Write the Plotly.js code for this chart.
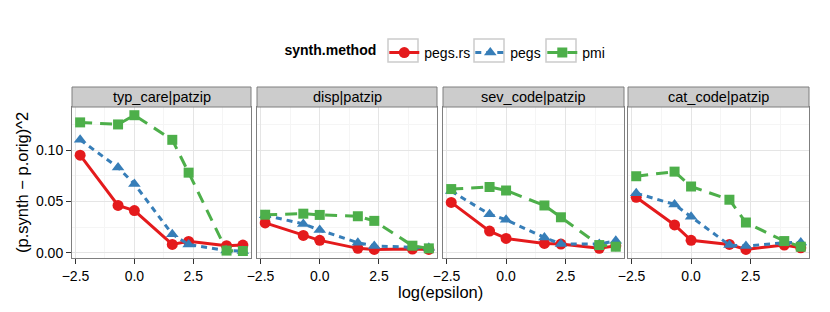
<!DOCTYPE html>
<html>
<head>
<meta charset="utf-8">
<script src="https://cdn.plot.ly/plotly-3.0.1.min.js"></script>
<style>html,body{margin:0;padding:0;background:#fff}#chart{width:830px;height:312px}</style>
</head>
<body>
<div id="chart"></div>
<script>
// log(epsilon) for epsilon = 0.1, 0.5, 1, 5, 10, 50, 100
const logEpsilon = [-2.303, -0.693, 0.0, 1.609, 2.303, 3.912, 4.605];
const panels = ["typ_care|patzip", "disp|patzip", "sev_code|patzip", "cat_code|patzip"];
const methods = ["pegs.rs", "pegs", "pmi"];

const typCare_pegsrs = [0.095, 0.046, 0.041, 0.008, 0.011, 0.0068, 0.0074];
const typCare_pegs   = [0.110, 0.083, 0.067, 0.018, 0.008, 0.002, 0.0016];
const typCare_pmi    = [0.127, 0.125, 0.134, 0.110, 0.078, 0.002, 0.0016];

const disp_pegsrs = [0.029, 0.0168, 0.012, 0.0042, 0.0032, 0.0035, 0.0032];
const disp_pegs   = [0.0365, 0.028, 0.022, 0.0097, 0.0065, 0.0058, 0.0048];
const disp_pmi    = [0.037, 0.038, 0.0368, 0.0355, 0.031, 0.0068, 0.0042];

const sevCode_pegsrs = [0.049, 0.021, 0.0139, 0.009, 0.0084, 0.0042, 0.0068];
const sevCode_pegs   = [0.060, 0.0374, 0.032, 0.0148, 0.0084, 0.0084, 0.0116];
const sevCode_pmi    = [0.062, 0.064, 0.0606, 0.046, 0.0345, 0.0074, 0.0058];

const catCode_pegsrs = [0.054, 0.027, 0.012, 0.008, 0.0032, 0.0074, 0.0048];
const catCode_pegs   = [0.058, 0.047, 0.035, 0.0074, 0.0065, 0.0097, 0.010];
const catCode_pmi    = [0.0745, 0.079, 0.0645, 0.0516, 0.0294, 0.0113, 0.0058];

const xTicks = [-2.5, 0, 2.5];
const yTicks = [0, 0.05, 0.10];

const panelData = [
  [typCare_pegsrs, typCare_pegs, typCare_pmi],
  [disp_pegsrs, disp_pegs, disp_pmi],
  [sevCode_pegsrs, sevCode_pegs, sevCode_pmi],
  [catCode_pegsrs, catCode_pegs, catCode_pmi]
];

const colors = ["#E41A1C", "#377EB8", "#4DAF4A"];
const symbols = ["circle", "triangle-up", "square"];
const msizes = [11, 11, 10];
const dashes = ["solid", "6px,5px", "12px,8px"];
const legendWidths = [41, 27, null];

const W = 830, H = 312;
const xPix = [[72, 251], [257, 437], [443, 624], [628, 809]];
const plotTop = 107, plotBottom = 258, stripTop = 87;
const yDom = [1 - plotBottom / H, 1 - plotTop / H];
const stripDom = [1 - plotTop / H, 1 - stripTop / H];

const traces = [];
panelData.forEach((series, p) => {
  series.forEach((vals, m) => {
    const t = {
      x: logEpsilon, y: vals,
      type: "scatter", mode: "lines+markers",
      name: methods[m], legendgroup: methods[m], showlegend: p === 0,
      xaxis: p === 0 ? "x" : "x" + (p + 1),
      yaxis: p === 0 ? "y" : "y" + (p + 1),
      line: {color: colors[m], width: 3, dash: dashes[m]},
      marker: {color: colors[m], symbol: symbols[m], size: msizes[m]},
      cliponaxis: false
    };
    if (legendWidths[m]) t.legendwidth = legendWidths[m];
    traces.push(t);
  });
});

const fam = "Liberation Sans, Arial, sans-serif";
const legX = 282.5, legY = 50.5;
const firstKey = legX + 120.5;
const keyCenters = [firstKey, firstKey + 45 + legendWidths[0], firstKey + 90 + legendWidths[0] + legendWidths[1]];
const layout = {
  width: W, height: H,
  margin: {l: 0, r: 0, t: 0, b: 0},
  paper_bgcolor: "#fff", plot_bgcolor: "#fff",
  font: {family: fam, color: "#000"},
  showlegend: true,
  legend: {
    orientation: "h", x: legX / W, xanchor: "left", y: 1 - (legY + 2.5) / H, yanchor: "middle",
    title: {text: "<b>synth.method</b>", font: {size: 14, family: fam, color: "#000"}},
    font: {size: 14, family: fam, color: "#000"},
    itemwidth: 30, tracegroupgap: 0, bgcolor: "rgba(0,0,0,0)"
  },
  shapes: [], annotations: []
};

// legend key boxes (decoration around the legend symbols)
keyCenters.forEach(cx => {
  layout.shapes.push({
    type: "rect", xref: "paper", yref: "paper",
    x0: (cx - 15) / W, x1: (cx + 15) / W, y0: 1 - (legY + 11.5) / H, y1: 1 - (legY - 11.5) / H,
    fillcolor: "#ffffff", line: {color: "#cccccc", width: 1.5}, layer: "above"
  });
});

for (let p = 0; p < 4; p++) {
  const sx = p === 0 ? "" : String(p + 1);
  const xd = [xPix[p][0] / W, xPix[p][1] / W];
  layout["xaxis" + sx] = {
    domain: xd, anchor: "y" + sx, range: [-2.648, 4.95],
    tickvals: xTicks, ticktext: xTicks.map(v => (v < 0 ? "\u2212" : "") + Math.abs(v).toFixed(1)),
    ticks: "outside", ticklen: 5, tickcolor: "#333", tickwidth: 1,
    tickfont: {size: 14, family: fam, color: "#000"},
    showline: true, mirror: true, linecolor: "#7f7f7f", linewidth: 1,
    showgrid: true, gridcolor: "#e5e5e5", gridwidth: 1, zeroline: false,
    minor: {tickvals: [-1.25, 1.25, 3.75], showgrid: true, gridcolor: "#f5f5f5", ticks: ""}
  };
  layout["yaxis" + sx] = {
    domain: yDom, anchor: "x" + sx, range: [-0.0052, 0.142],
    tickvals: yTicks, ticktext: yTicks.map(v => v.toFixed(2)),
    showticklabels: p === 0,
    ticks: p === 0 ? "outside" : "", ticklen: 5, tickcolor: "#333", tickwidth: 1,
    tickfont: {size: 14, family: fam, color: "#000"},
    showline: true, mirror: true, linecolor: "#7f7f7f", linewidth: 1,
    showgrid: true, gridcolor: "#e5e5e5", gridwidth: 1, zeroline: false,
    minor: {tickvals: [0.025, 0.075, 0.125], showgrid: true, gridcolor: "#f5f5f5", ticks: ""}
  };
  layout.shapes.push({
    type: "rect", xref: "paper", yref: "paper",
    x0: xd[0], x1: xd[1], y0: stripDom[0], y1: stripDom[1],
    fillcolor: "#cccccc", line: {color: "#7f7f7f", width: 1}, layer: "above"
  });
  layout.annotations.push({
    xref: "paper", yref: "paper", x: (xd[0] + xd[1]) / 2, y: (stripDom[0] + stripDom[1]) / 2,
    text: panels[p], showarrow: false, xanchor: "center", yanchor: "middle",
    font: {size: 14.5, family: fam, color: "#000"}
  });
}

layout.annotations.push({
  xref: "paper", yref: "paper", x: 440 / W, y: 1 - 282 / H,
  text: "log(epsilon)", showarrow: false, xanchor: "center", yanchor: "top",
  borderpad: 0, font: {size: 16.5, family: fam, color: "#000"}
});
layout.annotations.push({
  xref: "paper", yref: "paper", x: 22 / W, y: 1 - 183 / H,
  text: "(p.synth \u2212 p.orig)^2", showarrow: false, textangle: -90,
  xanchor: "center", yanchor: "middle", borderpad: 0,
  font: {size: 16.5, family: fam, color: "#000"}
});

Plotly.newPlot("chart", traces, layout, {displayModeBar: false, staticPlot: true});
</script>
</body>
</html>
